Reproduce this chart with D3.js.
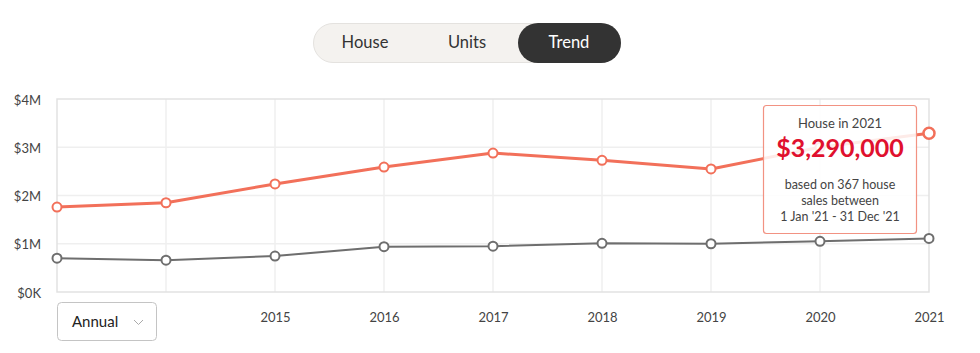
<!DOCTYPE html>
<html>
<head>
<meta charset="utf-8">
<script src="https://cdn.jsdelivr.net/npm/d3@7"></script>
<style>
body{margin:0;background:#fff;font-family:Lato,"Open Sans",sans-serif}
</style>
</head>
<body>
<div id="chart"></div>
<script>
const years = [2013,2014,2015,2016,2017,2018,2019,2020,2021]
const houseValues = [1.76,1.85,2.24,2.59,2.88,2.73,2.55,3.0,3.29]
const unitValues = [0.70,0.66,0.745,0.94,0.95,1.01,1.0,1.05,1.11]
const yTicks = [0,1,2,3,4]
const yTickLabels = ["$0K","$1M","$2M","$3M","$4M"]
const xTickYears = [2015,2016,2017,2018,2019,2020,2021]
const tabs = ["House","Units","Trend"]
const tooltipLines = ["House in 2021","$3,290,000","based on 367 house","sales between","1 Jan '21 - 31 Dec '21"]

drawChart("#chart")

function drawChart(id){
    const canvas = {width:980,height:353,margin:{top:99,right:51,bottom:61,left:57}}
    const svg = d3.select(id).append("svg").attr("width",canvas.width).attr("height",canvas.height)
    const sc = addScales(canvas)

    addTabs(svg)
    addGrid(svg,sc,canvas)
    addAxes(svg,sc,canvas)
    addLine(svg,sc,unitValues,"#6e6e6e",2)
    addLine(svg,sc,houseValues,"#f2705a",3)
    addPoints(svg,sc,unitValues,"#6e6e6e",4.5,2)
    addPoints(svg,sc,houseValues,"#f2705a",4.5,2)
    addTooltip(svg,sc)
    addDropdown(svg)
}

function addScales(canvas){
    const xScale = d3.scaleLinear().domain(d3.extent(years))
      .range([canvas.margin.left,canvas.width - canvas.margin.right])
    const yScale = d3.scaleLinear().domain([0,4])
      .range([canvas.height - canvas.margin.bottom,canvas.margin.top])
    return {xScale,yScale}
}

function addTabs(svg){
    const g = svg.append("g")
    g.append("rect").attr("x",313.5).attr("y",23.5).attr("width",307).attr("height",39).attr("rx",19.5)
     .attr("fill","#f4f2ef").attr("stroke","#e4e2df")
    g.append("rect").attr("x",518).attr("y",23).attr("width",103).attr("height",40).attr("rx",20)
     .attr("fill","#333")
    const cx = [365,467,569]
    tabs.forEach((t,i) => {
        g.append("text").attr("x",cx[i]).attr("y",48).attr("text-anchor","middle")
         .attr("font-size","16.5px").attr("fill",i == 2 ? "#fff" : "#333").text(t)
    })
}

function addGrid(svg,sc,canvas){
    const x0 = sc.xScale.range()[0], x1 = sc.xScale.range()[1]
    svg.append("g").selectAll("line.h").data(yTicks.slice(1,4)).enter().append("line")
     .attr("x1",x0).attr("x2",x1).attr("y1",d => sc.yScale(d)).attr("y2",d => sc.yScale(d))
     .attr("stroke","#efefef").attr("stroke-width",1.5)
    svg.append("g").selectAll("line.v").data(years.slice(1,8)).enter().append("line")
     .attr("x1",d => sc.xScale(d)).attr("x2",d => sc.xScale(d))
     .attr("y1",sc.yScale(4)).attr("y2",sc.yScale(0))
     .attr("stroke","#efefef").attr("stroke-width",1.5)
    svg.append("rect").attr("x",x0).attr("y",sc.yScale(4)).attr("width",x1 - x0)
     .attr("height",sc.yScale(0) - sc.yScale(4)).attr("fill","none")
     .attr("stroke","#e2e2e2").attr("stroke-width",1.5)
}

function addAxes(svg,sc,canvas){
    const yAxis = d3.axisLeft(sc.yScale).tickValues(yTicks)
      .tickFormat((d,i) => yTickLabels[i]).tickSize(0).tickPadding(16)
    const ya = svg.append("g").attr("transform",`translate(${canvas.margin.left},0)`).call(yAxis)
    const xAxis = d3.axisBottom(sc.xScale).tickValues(xTickYears).tickFormat(d3.format("d"))
      .tickSize(0).tickPadding(21)
    const xa = svg.append("g").attr("transform",`translate(0,${sc.yScale(0)})`).call(xAxis)
    ;[ya,xa].forEach(a => {
        a.select(".domain").remove()
        a.selectAll("text").attr("font-family","Lato,'Open Sans',sans-serif")
         .attr("font-size","13px").attr("fill","#444")
    })
    ya.selectAll("text").attr("dy","0.4em")
}

function addLine(svg,sc,values,color,w){
    const line = d3.line().x((d,i) => sc.xScale(years[i])).y(d => sc.yScale(d))
    svg.append("path").datum(values).attr("fill","none").attr("stroke",color)
     .attr("stroke-width",w).attr("stroke-linejoin","round").attr("d",line)
}

function addPoints(svg,sc,values,color,r,w){
    svg.append("g").selectAll("circle").data(values).enter().append("circle")
     .attr("cx",(d,i) => sc.xScale(years[i])).attr("cy",d => sc.yScale(d))
     .attr("r",(d,i) => (color == "#f2705a" && i == years.length - 1) ? 5.5 : r)
     .attr("fill","#fff").attr("stroke",color)
     .attr("stroke-width",(d,i) => (color == "#f2705a" && i == years.length - 1) ? 2.5 : w)
}

function addTooltip(svg,sc){
    const g = svg.append("g")
    g.append("rect").attr("x",763.5).attr("y",105.5).attr("width",153).attr("height",128).attr("rx",3)
     .attr("fill","#fff").attr("fill-opacity",0.86).attr("stroke","#f29282").attr("stroke-width",1.2)
    const cx = 840
    g.append("text").attr("x",cx).attr("y",128).attr("text-anchor","middle")
     .attr("font-size","13px").attr("fill","#444").text(tooltipLines[0])
    g.append("text").attr("x",cx).attr("y",157).attr("text-anchor","middle")
     .attr("font-size","25px").attr("font-weight","bold").attr("fill","#e0102e").text(tooltipLines[1])
    tooltipLines.slice(2).forEach((t,i) => {
        g.append("text").attr("x",cx).attr("y",189 + i*16).attr("text-anchor","middle")
         .attr("font-size","12.5px").attr("fill","#444").text(t)
    })
}

function addDropdown(svg){
    const g = svg.append("g")
    g.append("rect").attr("x",57.5).attr("y",302.5).attr("width",99).attr("height",38).attr("rx",4)
     .attr("fill","#fff").attr("stroke","#c4c4c4")
    g.append("text").attr("x",72).attr("y",327).attr("font-size","15px").attr("fill","#222").text("Annual")
    g.append("path").attr("d","M134,320 L138.5,324.5 L143,320").attr("fill","none")
     .attr("stroke","#aaa").attr("stroke-width",1)
}
</script>
</body>
</html>
